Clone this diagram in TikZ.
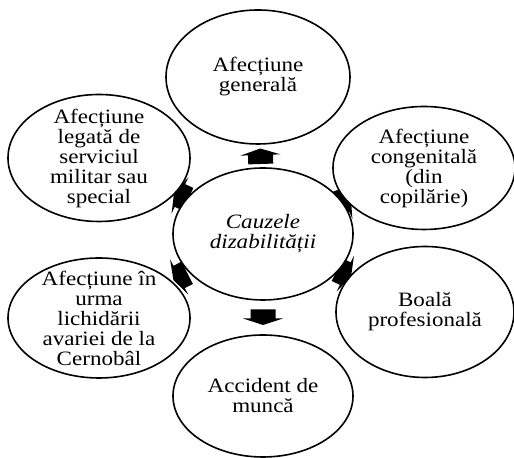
\documentclass[tikz,border=0pt]{standalone}
\usepackage{fontspec}
\setmainfont{Liberation Serif}[FakeStretch=1.13]
\usepackage{tikz}
\usetikzlibrary{shapes.geometric,positioning,backgrounds}

\tikzset{
  ell/.style={ellipse,draw,fill=white,line width=.8pt,inner sep=0pt,align=center,
    font=\fontsize{10.2}{10}\selectfont},
  bigarrow/.pic={\fill (-4pt,-6.25pt) -- (.5pt,-6.25pt) -- (.5pt,-10pt) -- (3.75pt,0pt)
    -- (.5pt,10pt) -- (.5pt,6.25pt) -- (-4pt,6.25pt) -- cycle;}
}

\begin{document}
\begin{tikzpicture}[node distance=1pt,on grid]
\useasboundingbox (-131.5pt,-112pt) rectangle (125.5pt,117pt);
\node[ell,minimum width=90pt,minimum height=66pt](cz){\itshape Cauzele\\\itshape dizabilității};
\node[ell,minimum width=92pt,minimum height=67pt](gen)[above=78.5pt of cz,xshift=-2.5pt]{Afecțiune\\generală};
\node[ell,minimum width=91pt,minimum height=61.5pt](cong)[above right=33pt and 80.5pt of cz]{Afecțiune\\congenitală\\(din\\copilărie)};
\node[ell,minimum width=89pt,minimum height=65.5pt](prof)[below right=39pt and 81pt of cz]{Boală\\profesională};
\node[ell,minimum width=90pt,minimum height=61pt](acc)[below=81pt of cz]{Accident de\\muncă};
\node[ell,inner ysep=-6pt,minimum width=91pt,minimum height=60pt](cern)[below left=42pt and 82pt of cz]{Afecțiune în\\urma\\lichidării\\avariei de la\\Cernobâl};
\node[ell,inner ysep=-6pt,minimum width=91pt,minimum height=63.5pt](mil)[above left=38pt and 82pt of cz]{Afecțiune\\legată de\\serviciul\\militar sau\\special};
% block arrows, half hidden behind the ellipses
\begin{scope}[on background layer]
\foreach \o in {gen,cong,prof,acc,cern,mil}
  \path (cz) -- (\o) pic[pos=.5,sloped,allow upside down]{bigarrow};
\end{scope}
\end{tikzpicture}
\end{document}
